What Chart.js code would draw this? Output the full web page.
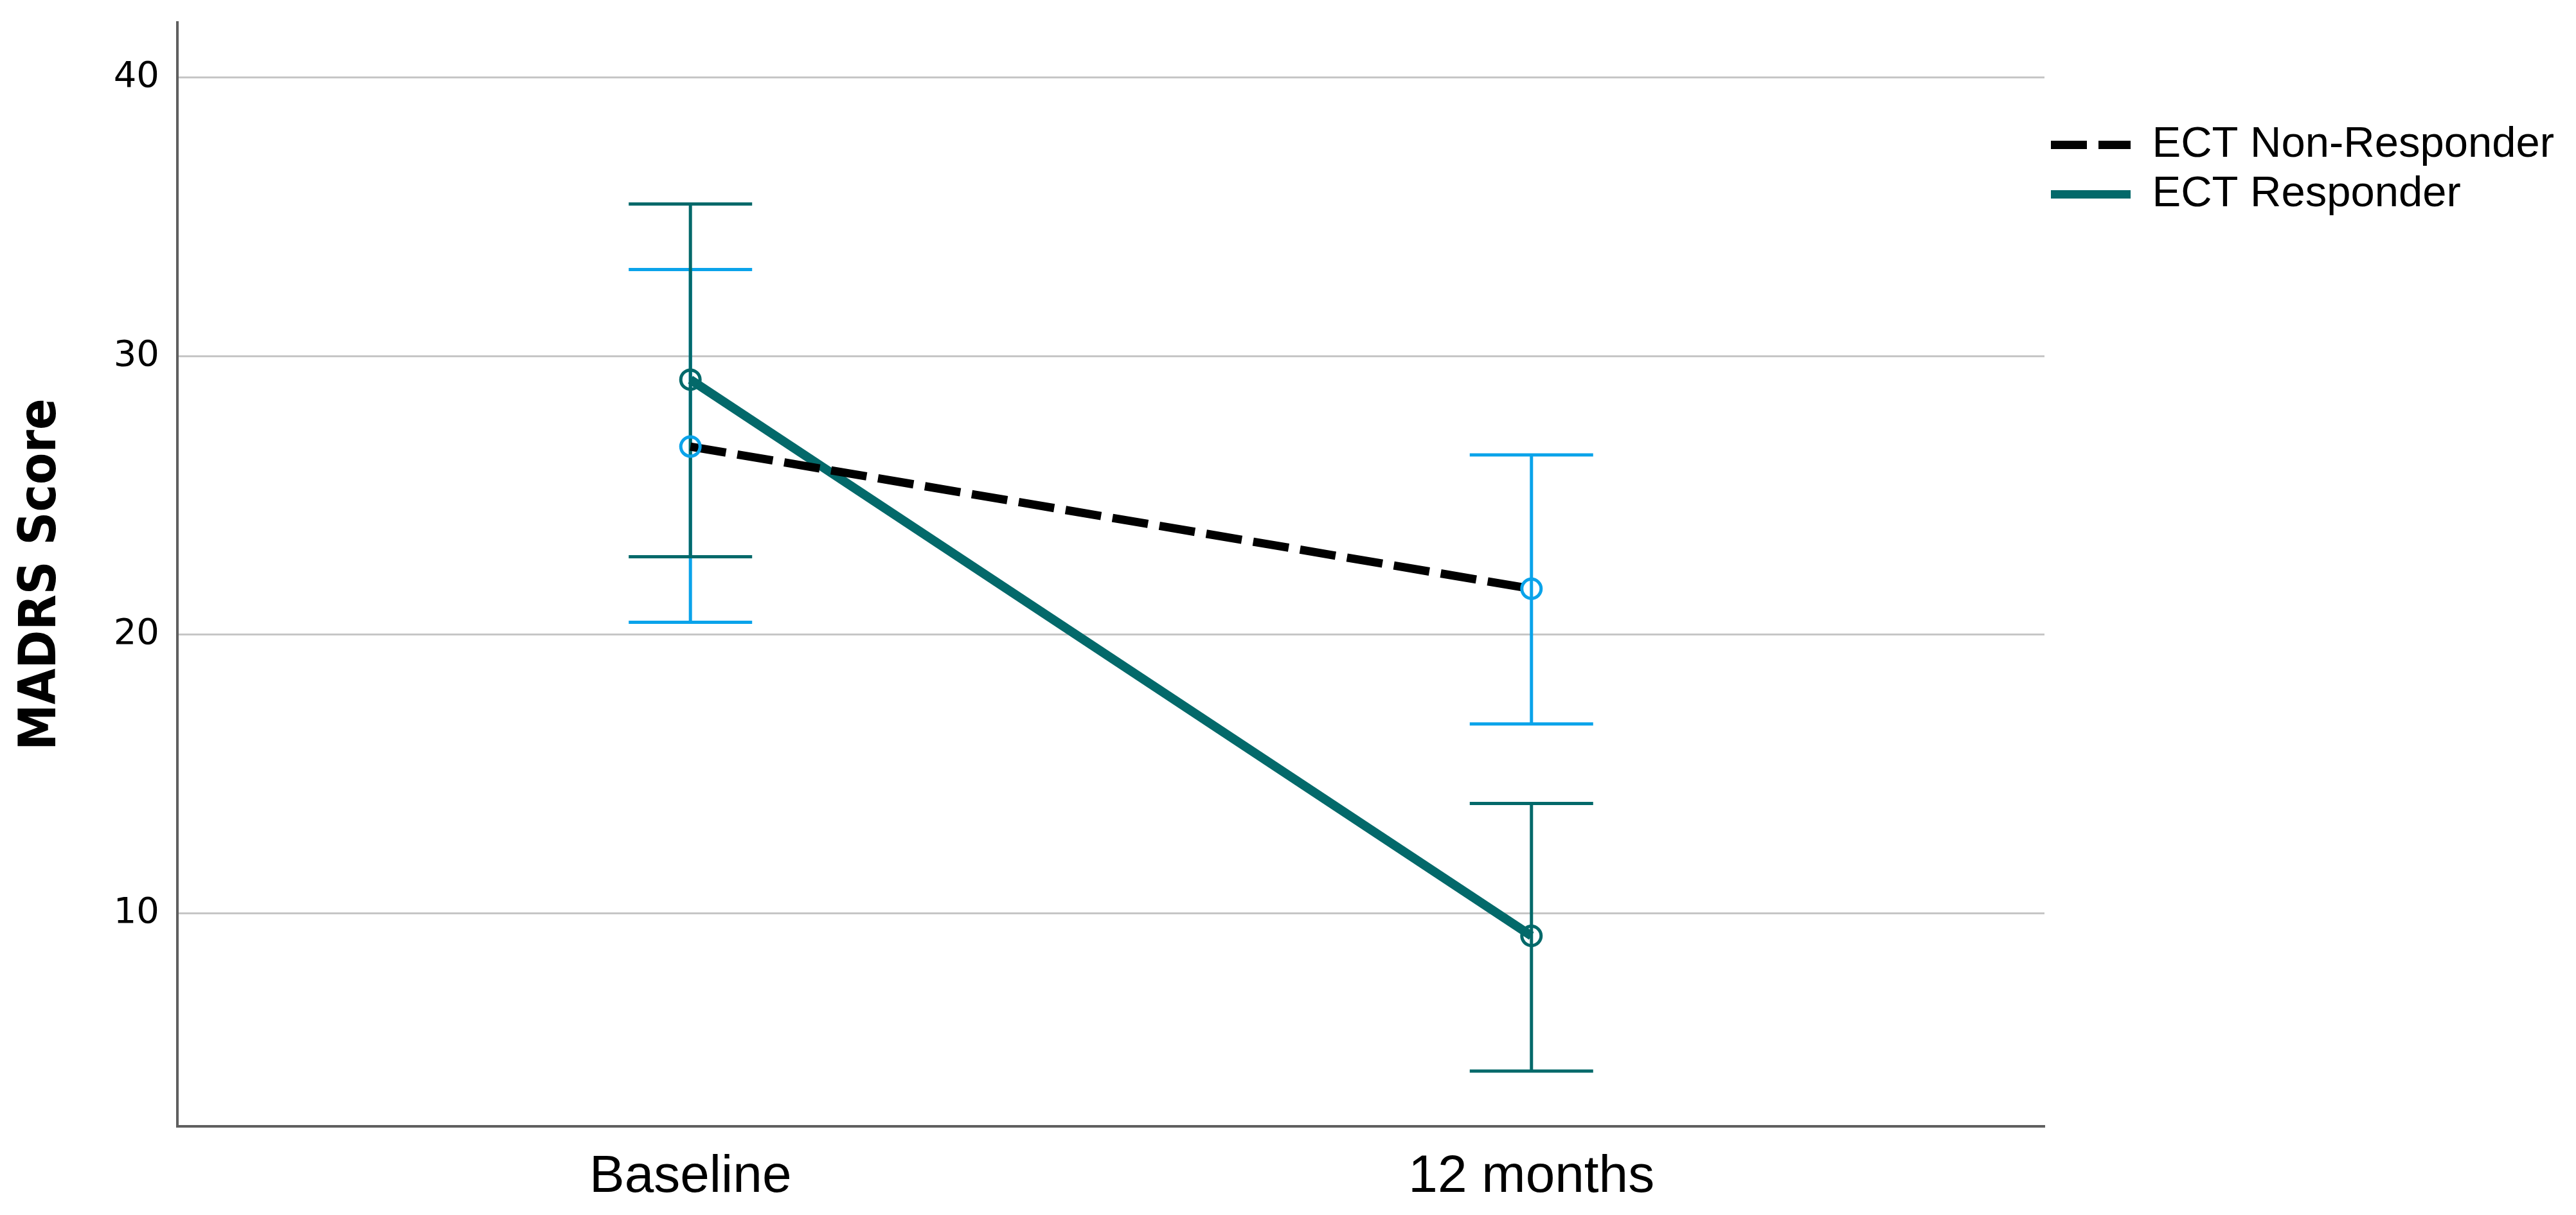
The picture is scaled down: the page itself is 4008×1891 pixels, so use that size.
<!DOCTYPE html>
<html>
<head>
<meta charset="utf-8">
<script src="https://cdn.jsdelivr.net/npm/chart.js@4/dist/chart.umd.min.js"></script>
<style>
  html, body { margin: 0; padding: 0; background: #ffffff; }
  #wrap { width: 4008px; height: 1891px; }
</style>
</head>
<body>
<div id="wrap"><canvas id="c" width="4008" height="1891"></canvas></div>
<script>
// ---- data ----
const categories = ['Baseline', '12 months'];
const seriesNames = ['ECT Non-Responder', 'ECT Responder'];
const nonResponderMean  = [26.75, 21.65];
const nonResponderLower = [20.45, 16.80];
const nonResponderUpper = [33.10, 26.45];
const responderMean  = [29.15, 9.20];
const responderLower = [22.80, 4.35];
const responderUpper = [35.45, 13.95];
const yTicks = [10, 20, 30, 40];
const yTitle = 'MADRS Score';

// ---- styles ----
const NR_LINE = '#000000';
const NR_BAR = '#0aa3ea';
const R_COLOR = '#03696a';
const CAP_HALF = 96;
const LEGEND_WIDTH = 827;

const toPoints = (vals) => vals.map((v, i) => ({ x: i, y: v }));

const errorBarPlugin = {
  id: 'errorBars',
  beforeDatasetsDraw(chart) {
    const { ctx, scales: { x, y } } = chart;
    const groups = [
      { lo: nonResponderLower, hi: nonResponderUpper, color: NR_BAR },
      { lo: responderLower, hi: responderUpper, color: R_COLOR }
    ];
    ctx.save();
    groups.forEach(g => {
      ctx.strokeStyle = g.color;
      ctx.lineWidth = 5;
      ctx.lineCap = 'butt';
      categories.forEach((c, i) => {
        const px = x.getPixelForValue(i);
        const yl = y.getPixelForValue(g.lo[i]);
        const yh = y.getPixelForValue(g.hi[i]);
        ctx.beginPath();
        ctx.moveTo(px, yl); ctx.lineTo(px, yh);
        ctx.moveTo(px - CAP_HALF, yl); ctx.lineTo(px + CAP_HALF, yl);
        ctx.moveTo(px - CAP_HALF, yh); ctx.lineTo(px + CAP_HALF, yh);
        ctx.stroke();
      });
    });
    ctx.restore();
  }
};

const legendWidthPlugin = {
  id: 'legendWidth',
  afterInit(chart) {
    const lg = chart.legend;
    if (lg && !lg._patched) {
      const orig = lg.fit.bind(lg);
      lg.fit = function () { orig(); lg.width = LEGEND_WIDTH; };
      lg._patched = true;
    }
  }
};

new Chart(document.getElementById('c'), {
  type: 'line',
  data: {
    datasets: [
      {
        label: seriesNames[0],
        data: toPoints(nonResponderMean),
        borderColor: NR_LINE,
        borderWidth: 13,
        borderDash: [56, 18],
        borderCapStyle: 'butt',
        pointRadius: 15,
        pointBorderWidth: 5,
        pointBorderColor: NR_BAR,
        pointBackgroundColor: 'rgba(0,0,0,0)',
        fill: false,
        tension: 0
      },
      {
        label: seriesNames[1],
        data: toPoints(responderMean),
        borderColor: R_COLOR,
        borderWidth: 14,
        borderCapStyle: 'butt',
        pointRadius: 15,
        pointBorderWidth: 5,
        pointBorderColor: R_COLOR,
        pointBackgroundColor: 'rgba(0,0,0,0)',
        fill: false,
        tension: 0
      }
    ]
  },
  options: {
    responsive: false,
    animation: false,
    devicePixelRatio: 1,
    events: [],
    layout: { padding: { top: 35, left: 0, right: 0, bottom: 0 } },
    plugins: {
      tooltip: { enabled: false },
      legend: {
        display: true,
        position: 'right',
        align: 'start',
        title: { display: true, text: ' ', font: { size: 1, lineHeight: 1 }, padding: { top: 146, bottom: 0 } },
        labels: {
          usePointStyle: true,
          pointStyleWidth: 124,
          padding: 10,
          color: '#000000',
          font: { family: "'Liberation Sans', Arial, sans-serif", size: 67, lineHeight: 1 },
          generateLabels(chart) {
            return chart.data.datasets.map((ds, i) => ({
              text: ds.label,
              fillStyle: ds.borderColor,
              strokeStyle: ds.borderColor,
              lineWidth: 13,
              lineDash: ds.borderDash || [],
              lineCap: 'butt',
              pointStyle: 'line',
              hidden: false,
              fontColor: '#000000',
              datasetIndex: i
            }));
          }
        }
      }
    },
    scales: {
      x: {
        type: 'linear',
        min: -0.61,
        max: 1.61,
        afterBuildTicks: s => { s.ticks = categories.map((c, i) => ({ value: i })); },
        afterFit: s => { s.height = 138; s.paddingLeft = 0; s.paddingRight = 0; },
        grid: { display: false, drawTicks: false },
        border: { display: true, color: '#5f5f5f', width: 4 },
        ticks: {
          padding: 30,
          color: '#000000',
          autoSkip: false,
          maxRotation: 0,
          font: { family: "'Liberation Sans', Arial, sans-serif", size: 82 },
          callback: v => categories[v] !== undefined ? categories[v] : ''
        }
      },
      y: {
        type: 'linear',
        min: 2.37,
        max: 41.96,
        afterBuildTicks: s => { s.ticks = yTicks.map(v => ({ value: v })); },
        afterFit: s => { s.width = 276; s.paddingTop = 0; s.paddingBottom = 0; },
        grid: { color: '#c6c6c6', lineWidth: 3, drawTicks: false },
        border: { display: true, color: '#5f5f5f', width: 4 },
        ticks: {
          padding: 28,
          color: '#000000',
          font: { family: "'DejaVu Sans', sans-serif", size: 56 },
          callback: v => String(v)
        },
        title: {
          display: true,
          text: yTitle,
          color: '#000000',
          font: { family: "'DejaVu Sans Condensed', 'DejaVu Sans', sans-serif", weight: 'bold', size: 80, lineHeight: 1 },
          padding: { top: 25, bottom: 0 }
        }
      }
    }
  },
  plugins: [errorBarPlugin, legendWidthPlugin]
});
</script>
</body>
</html>
